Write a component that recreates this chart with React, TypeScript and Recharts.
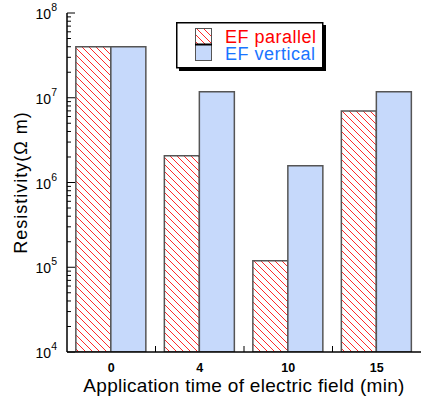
import React from 'react';
import { BarChart, Bar, XAxis, YAxis, Legend, Label } from 'recharts';

const categories = ['0', '4', '10', '15'];
const efParallel = [4.0e7, 2.07e6, 1.19e5, 7.0e6];
const efVertical = [4.0e7, 1.18e7, 1.58e6, 1.18e7];
const decadeExponents = [4, 5, 6, 7, 8];
const minorMultipliers = [2, 3, 4, 5, 6, 7, 8, 9];
const seriesNames = ['EF parallel', 'EF vertical'];
const xTitle = 'Application time of electric field (min)';
const yTitle = 'Resistivity(\u03A9 m)';

const data = categories.map((c, i) => ({ cat: c, parallel: efParallel[i], vertical: efVertical[i] }));

const yTicks: number[] = [];
decadeExponents.forEach((e, k) => {
  yTicks.push(Math.pow(10, e));
  if (k < decadeExponents.length - 1) minorMultipliers.forEach((m) => yTicks.push(m * Math.pow(10, e)));
});

const FONT = '"Liberation Sans", Arial, Helvetica, sans-serif';
const RED = '#ff2a2a';
const BLUE_FILL = '#c6d9fb';
const BAR_STROKE = '#555';

const isMajor = (v: number) => Math.abs(Math.log10(v) - Math.round(Math.log10(v))) < 1e-9;

const LeftTick = (props: any) => {
  const { x, y, payload } = props;
  const v = payload.value;
  const major = isMajor(v);
  const exp = Math.round(Math.log10(v));
  return (
    <g>
      <line x1={x} y1={y} x2={x + (major ? 8 : 4)} y2={y} stroke="#000" strokeWidth={1} />
      {major && (
        <text x={x - 10} y={y + 6} textAnchor="end" fontFamily={FONT} fontSize={14} fill="#000">
          10
          <tspan dy={-8} fontSize={10.5}>{exp}</tspan>
        </text>
      )}
    </g>
  );
};

const RightTick = (props: any) => {
  const { x, y, payload } = props;
  const major = isMajor(payload.value);
  return <line x1={x} y1={y} x2={x - (major ? 5 : 2.5)} y2={y} stroke="#000" strokeWidth={1} />;
};

const BottomTick = (props: any) => {
  const { x, y, payload, index } = props;
  const off = payload.offset || 0;
  return (
    <g>
      {index < categories.length - 1 && (
        <line x1={x + off} y1={y} x2={x + off} y2={y - 6} stroke="#000" strokeWidth={1} />
      )}
      <text x={x} y={y + 19.5} textAnchor="middle" fontFamily={FONT} fontSize={12.5} fontWeight="bold" fill="#000">
        {payload.value}
      </text>
    </g>
  );
};

const TopTick = (props: any) => {
  const { x, y, payload, index } = props;
  const off = payload.offset || 0;
  if (index >= categories.length - 1) return <g />;
  return <line x1={x + off} y1={y} x2={x + off} y2={y + 6} stroke="#000" strokeWidth={1} />;
};

const renderLegend = () => (
  <svg width={152} height={52} style={{ display: 'block' }}>
    <defs>
      <pattern id="hatchLegend" patternUnits="userSpaceOnUse" width={7} height={7}>
        <path d="M0,0 L7,7 M-1,6 L1,8 M6,-1 L8,1" stroke={RED} strokeWidth={1} />
      </pattern>
    </defs>
    <rect x={3} y={3} width={147} height={46} fill="#000" />
    <rect x={0.75} y={0.75} width={146} height={45} fill="#fff" stroke="#000" strokeWidth={1.5} />
    <rect x={19.5} y={6.5} width={16} height={16} fill="url(#hatchLegend)" stroke={BAR_STROKE} strokeWidth={1} />
    <rect x={19.5} y={22.5} width={16} height={16} fill={BLUE_FILL} stroke={BAR_STROKE} strokeWidth={1} />
    <line x1={19} y1={22.5} x2={36} y2={22.5} stroke="#000" strokeWidth={2} />
    <text x={49} y={21} fontFamily={FONT} fontSize={18} letterSpacing={0.5} fill="#ff0000">{seriesNames[0]}</text>
    <text x={49} y={37.5} fontFamily={FONT} fontSize={18} letterSpacing={0.5} fill="#1a74ff">{seriesNames[1]}</text>
  </svg>
);

export default function App() {
  return (
    <div style={{ position: 'absolute', left: 0, top: 0 }}>
      <BarChart
        width={422}
        height={401}
        data={data}
        margin={{ top: 13, right: 1, bottom: 0, left: 0 }}
        barCategoryGap="10%"
        barGap={0}
      >
        <defs>
          <pattern id="hatchRed" patternUnits="userSpaceOnUse" width={7} height={7}>
            <path d="M0,0 L7,7 M-1,6 L1,8 M6,-1 L8,1" stroke={RED} strokeWidth={1} />
          </pattern>
        </defs>
        <XAxis
          dataKey="cat"
          height={49}
          tickLine={false}
          tickSize={0}
          tickMargin={0}
          tick={<BottomTick />}
          axisLine={{ stroke: '#000', strokeWidth: 1.5 }}
        >
          <Label
            value={xTitle}
            position="insideBottom"
            offset={9}
            style={{ fontFamily: FONT, fontSize: 19, letterSpacing: 0.3, fill: '#000' }}
          />
        </XAxis>
        <XAxis
          xAxisId="top"
          dataKey="cat"
          orientation="top"
          height={0}
          tickLine={false}
          tickSize={0}
          tickMargin={0}
          tick={<TopTick />}
          axisLine={{ stroke: '#000', strokeWidth: 1.5 }}
        />
        <YAxis
          yAxisId="left"
          scale="log"
          domain={[1e4, 1e8]}
          ticks={yTicks}
          allowDataOverflow
          width={67}
          tickLine={false}
          tickSize={0}
          tickMargin={0}
          tick={<LeftTick />}
          interval={0}
          axisLine={{ stroke: '#000', strokeWidth: 1.5 }}
        >
          <Label
            content={(p: any) => {
              const vb = p.viewBox;
              const cx = 27;
              const cy = vb.y + vb.height / 2;
              return (
                <text
                  x={cx}
                  y={cy}
                  transform={`rotate(-90 ${cx} ${cy})`}
                  textAnchor="middle"
                  fontFamily={FONT}
                  fontSize={18}
                  letterSpacing={1}
                  fill="#000"
                >
                  {yTitle}
                </text>
              );
            }}
          />
        </YAxis>
        <YAxis
          yAxisId="right"
          orientation="right"
          scale="log"
          domain={[1e4, 1e8]}
          ticks={yTicks}
          allowDataOverflow
          width={0}
          tickLine={false}
          tickSize={0}
          tickMargin={0}
          tick={<RightTick />}
          interval={0}
          axisLine={{ stroke: '#000', strokeWidth: 1.5 }}
        />
        <Legend
          verticalAlign="middle"
          align="center"
          layout="horizontal"
          content={renderLegend}
          wrapperStyle={{ left: 176, top: 22, width: 152, height: 52 }}
        />
        <Bar yAxisId="left" dataKey="parallel" name={seriesNames[0]} fill="url(#hatchRed)" stroke={BAR_STROKE} strokeWidth={1.5} isAnimationActive={false} />
        <Bar yAxisId="left" dataKey="vertical" name={seriesNames[1]} fill={BLUE_FILL} stroke={BAR_STROKE} strokeWidth={1.5} isAnimationActive={false} />
      </BarChart>
    </div>
  );
}
